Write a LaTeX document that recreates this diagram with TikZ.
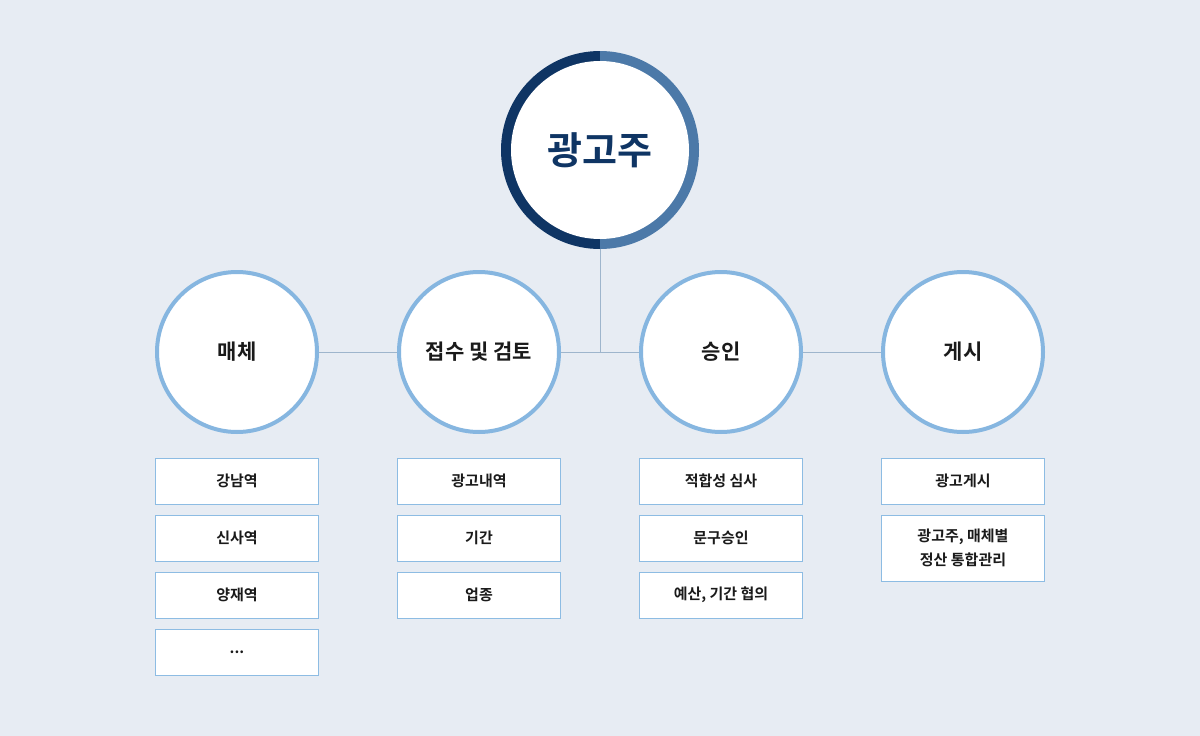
\documentclass[tikz,border=0pt]{standalone}
\usepackage{fontspec}
\setmainfont{Noto Sans CJK KR}[BoldFont={Noto Sans CJK KR Bold}]
\begin{document}
\begin{tikzpicture}[x=1pt,y=-1pt,
  circ/.style={circle,draw=cring,line width=4pt,fill=white,minimum size=160pt,inner sep=0pt,font=\bfseries\fontsize{21}{24}\selectfont,text=ctext},
  box/.style={draw=cbox,line width=0.8pt,fill=white,minimum width=163pt,minimum height=46pt,inner sep=0pt,align=center,font=\bfseries\fontsize{15}{24}\selectfont,text=ctext},
  conn/.style={draw=cline,line width=0.8pt}]
\definecolor{bg}{HTML}{E7ECF3}
\definecolor{cring}{HTML}{86B6E0}
\definecolor{cbox}{HTML}{8DBCE3}
\definecolor{cline}{HTML}{9EB5CC}
\definecolor{ctext}{HTML}{1A1A1A}
\definecolor{dark}{HTML}{0F3564}
\definecolor{mid}{HTML}{4C79A8}
\fill[bg] (0,0) rectangle (1200,736);
\useasboundingbox (0,0) rectangle (1200,736);
\coordinate (tc) at (600,150);
\fill[dark] (600,51) arc[start angle=270,end angle=90,radius=99] -- cycle;
\fill[mid] (600,51) arc[start angle=270,end angle=450,radius=99] -- cycle;
\node[circle,fill=white,minimum size=178pt,inner sep=0pt,text=dark,font=\bfseries\fontsize{38}{44}\selectfont] (top) at (tc) {광고주};
\node[circ] (c1) at (237,352) {매체};
\node[circ] (c2) at (479,352) {접수 및 검토};
\node[circ] (c3) at (721,352) {승인};
\node[circ] (c4) at (963,352) {게시};
\coordinate (j) at (600,353);
\coordinate (tb) at (600,249);
\draw[conn] (c1) -- (c2); \draw[conn] (c2) -- (c3); \draw[conn] (c3) -- (c4);
\draw[conn] (tb) -- (j);
\node[box] (a1) at (237,481) {강남역};
\node[box] (a2) at (237,538) {신사역};
\node[box] (a3) at (237,595) {양재역};
\node[box] (a4) at (237,652) {...};
\node[box] (b1) at (479,481) {광고내역};
\node[box] (b2) at (479,538) {기간};
\node[box] (b3) at (479,595) {업종};
\node[box] (d1) at (721,481) {적합성 심사};
\node[box] (d2) at (721,538) {문구승인};
\node[box] (d3) at (721,595) {예산, 기간 협의};
\node[box] (e1) at (963,481) {광고게시};
\node[box,minimum height=66pt] (e2) at (963,548) {광고주, 매체별\\정산 통합관리};
\end{tikzpicture}
\end{document}
